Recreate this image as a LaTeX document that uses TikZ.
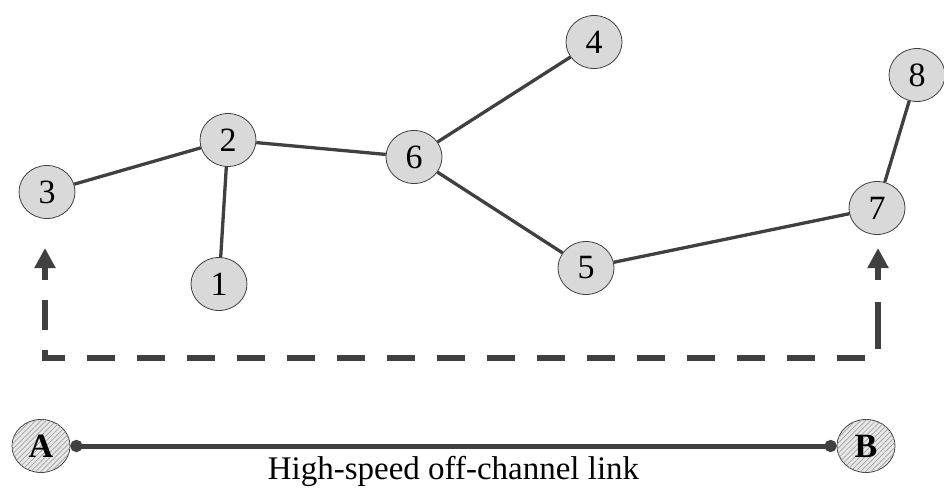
\documentclass[tikz,border=0pt]{standalone}
\usepackage{fontspec}
\setmainfont{Liberation Serif}
\usetikzlibrary{arrows.meta,patterns.meta,shapes.geometric}
\definecolor{edgec}{HTML}{404040}
\definecolor{nodefill}{HTML}{D9D9D9}
\tikzset{
  vnode/.style={ellipse, minimum width=56pt, minimum height=53pt, inner sep=0pt, draw=edgec, line width=0.8pt, fill=nodefill, font=\fontsize{34}{34}\selectfont},
  termnode/.style={ellipse, minimum width=58pt, minimum height=53pt, inner sep=0pt, draw=edgec, line width=0.8pt, fill=nodefill!60, postaction={pattern={Lines[distance=3.6pt, angle=45, line width=0.7pt]}, pattern color=gray!75}, font=\fontsize{34}{34}\selectfont\bfseries},
  link/.style={draw=edgec, line width=3.3pt},
  dashlink/.style={draw=edgec, line width=6.5pt, dash pattern=on 28pt off 22pt, -{Triangle[length=20pt,width=20pt]}},
}
\begin{document}
\begin{tikzpicture}[x=1pt,y=-1pt]
\useasboundingbox (0,0) rectangle (944,487);
\node[vnode] (n3) at (47,192) {3};
\node[vnode] (n2) at (228,140) {2};
\node[vnode] (n1) at (219,284) {1};
\node[vnode] (n6) at (414,157) {6};
\node[vnode] (n4) at (594,42) {4};
\node[vnode] (n5) at (586,268) {5};
\node[vnode] (n7) at (877,208) {7};
\node[vnode] (n8) at (917,75) {8};
\draw[link] (n3) -- (n2);
\draw[link] (n2) -- (n1);
\draw[link] (n2) -- (n6);
\draw[link] (n6) -- (n4);
\draw[link] (n6) -- (n5);
\draw[link] (n5) -- (n7);
\draw[link] (n7) -- (n8);
\coordinate (dL) at (45,248);
\coordinate (dR) at (878,248);
\draw[draw=edgec, line width=6.5pt, dash pattern=on 28pt off 22pt] (45,300) -- (45,358) -- (878,358) -- (878,300);
\draw[dashlink] (45,330) -- (dL);
\draw[dashlink] (878,330) -- (dR);
\node[termnode] (A) at (41,446) {A};
\node[termnode] (B) at (866,446) {B};
\draw[draw=edgec, line width=5pt, {Circle[length=12pt]}-{Circle[length=12pt]}] (A) -- node[below=4pt, font=\fontsize{33}{33}\selectfont, text=black] (lbl) {High-speed off-channel link} (B);
\end{tikzpicture}
\end{document}
